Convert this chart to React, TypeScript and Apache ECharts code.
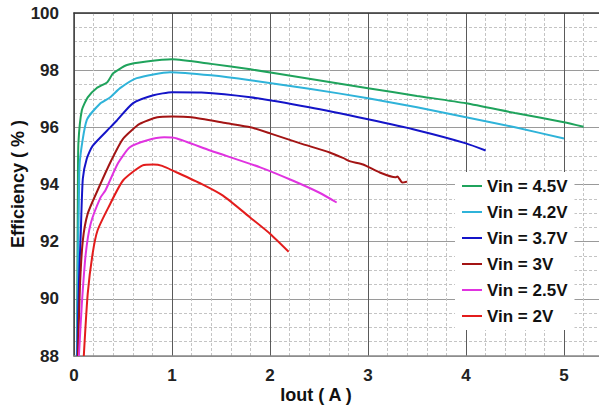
import React, { useEffect, useRef } from "react";
import * as echarts from "echarts";

const seriesNames = ["Vin = 4.5V", "Vin = 4.2V", "Vin = 3.7V", "Vin = 3V", "Vin = 2.5V", "Vin = 2V"];
const seriesColors = ["#1fa35c", "#2fb3d9", "#1414c8", "#a31414", "#e033e0", "#e31c1c"];

const vin45X = [0.03, 0.035, 0.04, 0.045, 0.08, 0.14, 0.23, 0.34, 0.4, 0.54, 0.74, 1.0, 1.4, 1.8, 2.4, 3.0, 3.5, 4.0, 4.5, 5.0, 5.2];
const vin45Y = [88, 91, 94, 95.45, 96.6, 97.05, 97.37, 97.58, 97.89, 98.18, 98.3, 98.38, 98.22, 98.03, 97.7, 97.37, 97.1, 96.84, 96.5, 96.18, 96.02];

const vin42X = [0.03, 0.04, 0.05, 0.06, 0.13, 0.27, 0.37, 0.47, 0.64, 0.98, 1.4, 1.8, 2.4, 3.0, 3.5, 4.0, 4.5, 5.0];
const vin42Y = [88, 91, 93.5, 94.84, 96.25, 96.84, 97.05, 97.37, 97.72, 97.93, 97.82, 97.65, 97.35, 97.02, 96.7, 96.35, 96.0, 95.61];

const vin37X = [0.035, 0.05, 0.07, 0.09, 0.13, 0.19, 0.37, 0.44, 0.6, 0.81, 1.0, 1.3, 1.8, 2.4, 3.0, 3.5, 4.0, 4.2];
const vin37Y = [88, 90.5, 92.4, 94.2, 94.9, 95.35, 96.0, 96.25, 96.84, 97.12, 97.23, 97.22, 97.05, 96.7, 96.28, 95.9, 95.44, 95.19];

const vin3X = [0.04, 0.06, 0.09, 0.14, 0.24, 0.38, 0.5, 0.67, 0.85, 1.0, 1.2, 1.56, 1.8, 2.0, 2.31, 2.61, 2.75, 2.82, 2.95, 3.12, 3.28, 3.3, 3.35, 3.4];
const vin3Y = [88, 90.39, 92.04, 92.98, 93.79, 94.84, 95.6, 96.12, 96.35, 96.38, 96.35, 96.14, 96.0, 95.79, 95.44, 95.12, 94.92, 94.81, 94.7, 94.42, 94.25, 94.28, 94.07, 94.1];

const vin25X = [0.05, 0.08, 0.12, 0.17, 0.27, 0.32, 0.45, 0.57, 0.74, 0.92, 1.05, 1.39, 1.9, 2.23, 2.5, 2.68];
const vin25Y = [88, 89.82, 91.58, 92.63, 93.54, 93.79, 94.75, 95.3, 95.54, 95.65, 95.61, 95.19, 94.6, 94.14, 93.72, 93.37];

const vin2X = [0.1, 0.14, 0.19, 0.24, 0.35, 0.5, 0.7, 0.81, 0.9, 1.05, 1.3, 1.52, 1.8, 2.0, 2.19];
const vin2Y = [88, 90.18, 91.58, 92.39, 93.19, 94.14, 94.67, 94.7, 94.65, 94.42, 94.02, 93.61, 92.84, 92.28, 91.65];

const allX = [vin45X, vin42X, vin37X, vin3X, vin25X, vin2X];
const allY = [vin45Y, vin42Y, vin37Y, vin3Y, vin25Y, vin2Y];

const xTicks = [0, 1, 2, 3, 4, 5];
const yTicks = [88, 90, 92, 94, 96, 98, 100];

const FONT = "'Liberation Sans', Arial, sans-serif";

export default function App() {
  const ref = useRef<HTMLDivElement>(null);
  useEffect(() => {
    if (!ref.current) return;
    const chart = echarts.init(ref.current, undefined, { renderer: "svg" });
    const series = seriesNames.map((name, i) => ({
      name,
      type: "line",
      xAxisIndex: 0,
      data: allX[i].map((x, j) => [x, allY[i][j]]),
      showSymbol: false,
      smooth: 0.2,
      lineStyle: { color: seriesColors[i], width: 2 },
      itemStyle: { color: seriesColors[i] },
      z: 5,
    }));
    chart.setOption({
      animation: false,
      backgroundColor: "#fff",
      grid: { left: 74, right: 0, top: 13, bottom: 54, containLabel: false },
      xAxis: [
        {
          type: "value",
          min: xTicks[0],
          max: 5.357,
          interval: 1,
          axisLine: { show: true, lineStyle: { color: "#888", width: 1.5 } },
          axisTick: { show: false },
          axisLabel: {
            showMaxLabel: false,
            margin: 11,
            fontFamily: FONT,
            fontWeight: "bold",
            fontSize: 17,
            color: "#222",
          },
          splitLine: { show: true, lineStyle: { color: "#5a5a5a", width: 1 } },
          minorTick: { show: false, splitNumber: 5 },
          minorSplitLine: { show: true, lineStyle: { color: "#c4c4c4", type: [3, 2], width: 1 } },
        },
        {
          type: "value",
          position: "top",
          min: 0,
          max: 5.357,
          interval: 1,
          axisLine: { show: true, onZero: false, lineStyle: { color: "#333", width: 1.5 } },
          axisTick: { show: false },
          axisLabel: { show: false },
          splitLine: { show: false },
        },
      ],
      yAxis: {
        type: "value",
        min: yTicks[0],
        max: yTicks[yTicks.length - 1],
        interval: 2,
        axisLine: { show: true, lineStyle: { color: "#444", width: 1.5 } },
        axisTick: { show: false },
        axisLabel: {
          margin: 15,
          fontFamily: FONT,
          fontWeight: "bold",
          fontSize: 17,
          color: "#222",
        },
        splitLine: { show: true, lineStyle: { color: "#9a9a9a", width: 1 } },
        minorTick: { show: false, splitNumber: 4 },
        minorSplitLine: { show: true, lineStyle: { color: "#c4c4c4", type: [3, 2], width: 1 } },
      },
      legend: {
        orient: "vertical",
        left: 455,
        top: 172,
        padding: [5, 7, 5, 7],
        backgroundColor: "#fff",
        itemGap: 8,
        itemWidth: 20,
        itemHeight: 2,
        icon: "rect",
        data: seriesNames,
        textStyle: {
          fontFamily: FONT,
          fontWeight: "bold",
          fontSize: 17,
          lineHeight: 18,
          color: "#111",
        },
      },
      graphic: [
        {
          type: "text",
          x: 18,
          y: 184,
          rotation: Math.PI / 2,
          style: {
            text: "Efficiency ( % )",
            font: "bold 18px " + FONT,
            fill: "#111",
            textAlign: "center",
            textVerticalAlign: "middle",
          },
        },
        {
          type: "text",
          x: 316,
          y: 395,
          style: {
            text: "Iout ( A )",
            font: "bold 18px " + FONT,
            fill: "#111",
            textAlign: "center",
            textVerticalAlign: "middle",
          },
        },
      ],
      series,
    });
    return () => chart.dispose();
  }, []);
  return (
    <div
      ref={ref}
      style={{ position: "fixed", left: 0, top: 0, width: 599, height: 410 }}
    />
  );
}
